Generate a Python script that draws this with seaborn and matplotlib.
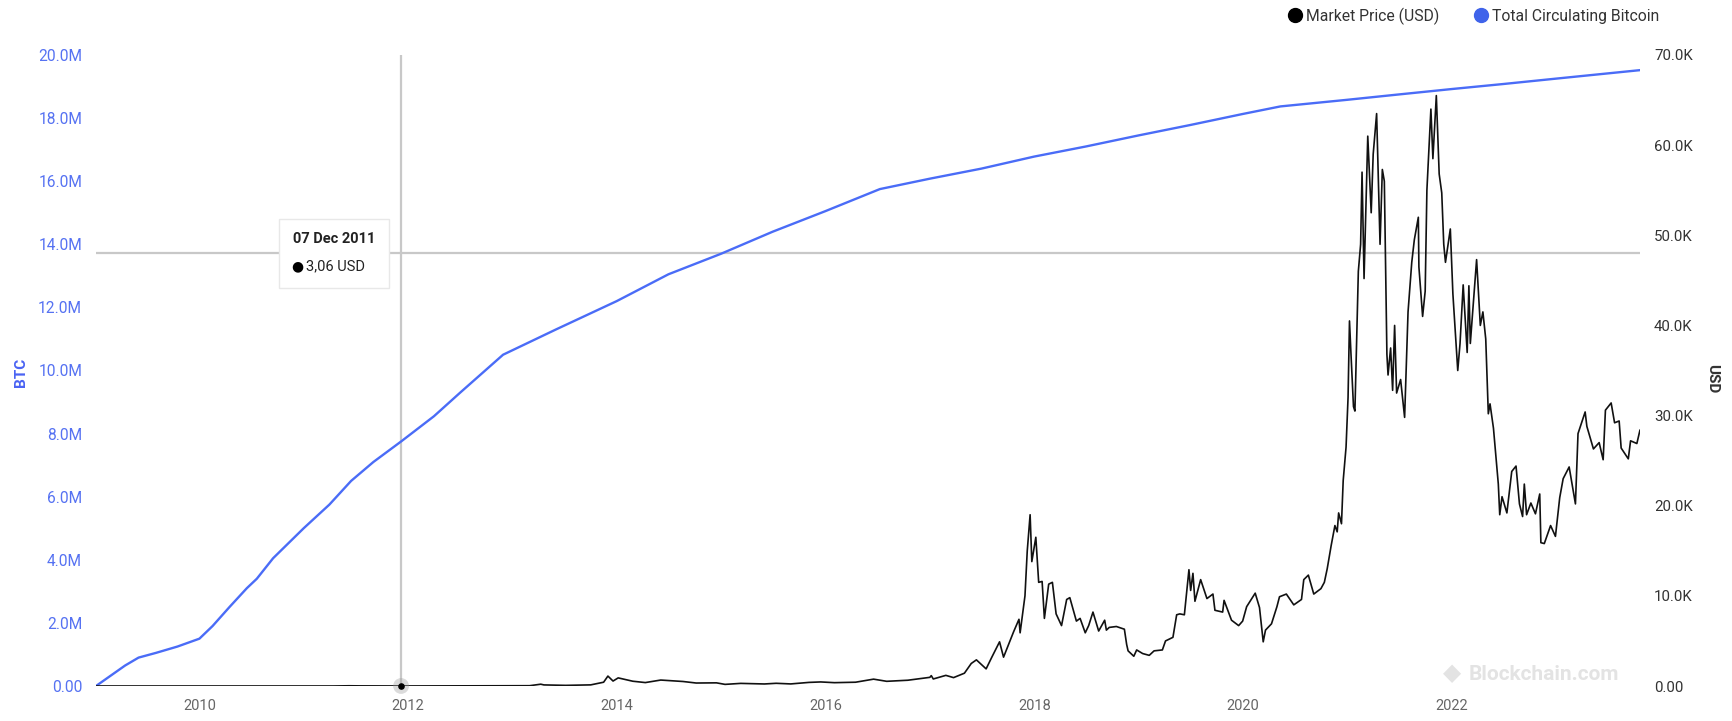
import matplotlib
matplotlib.use('Agg')
import matplotlib.pyplot as plt
import matplotlib.dates as mdates
from matplotlib.lines import Line2D
from matplotlib.patches import Rectangle
from matplotlib.ticker import FuncFormatter, MultipleLocator
import seaborn as sns
import pandas as pd

# ---------------- data ----------------
supply_dates = [
    "2009-01-03", "2009-04-15", "2009-06-01", "2009-08-01", "2009-10-15", "2009-12-31",
    "2010-02-15", "2010-04-15", "2010-06-15", "2010-07-20", "2010-09-15", "2010-12-31",
    "2011-03-31", "2011-06-15", "2011-09-01", "2011-12-07", "2012-03-31", "2012-07-01",
    "2012-11-28", "2013-06-01", "2013-12-31", "2014-06-30", "2014-12-31", "2015-06-30",
    "2015-12-31", "2016-07-09", "2016-12-31", "2017-06-30", "2017-12-31", "2018-06-30",
    "2018-12-31", "2019-06-30", "2019-12-31", "2020-05-11", "2020-12-31", "2021-06-30",
    "2021-12-31", "2022-06-30", "2022-12-31", "2023-10-22",
]
supply_btc = [
    0, 650000, 900000, 1050000, 1250000, 1500000,
    1900000, 2500000, 3100000, 3400000, 4050000, 5000000,
    5750000, 6500000, 7100000, 7750000, 8550000, 9300000,
    10500000, 11300000, 12200000, 13050000, 13700000, 14400000,
    15050000, 15750000, 16080000, 16400000, 16780000, 17100000,
    17450000, 17780000, 18130000, 18370000, 18580000, 18750000,
    18920000, 19080000, 19250000, 19520000,
]

price_dates = [
    "2009-01-03", "2010-07-17", "2010-11-06", "2011-02-09", "2011-04-15", "2011-06-08",
    "2011-07-15", "2011-10-20", "2011-12-07", "2012-02-01", "2012-05-01", "2012-08-15",
    "2012-12-31", "2013-03-01", "2013-04-09", "2013-04-20", "2013-07-05", "2013-10-01",
    "2013-11-15", "2013-11-30", "2013-12-18", "2014-01-05", "2014-02-25", "2014-04-10",
    "2014-06-03", "2014-08-20", "2014-10-05", "2014-12-15", "2015-01-14", "2015-03-10",
    "2015-06-01", "2015-07-12", "2015-09-01", "2015-11-04", "2015-12-15", "2016-02-01",
    "2016-04-15", "2016-06-17", "2016-08-02", "2016-10-15", "2016-12-31", "2017-01-05",
    "2017-01-12", "2017-02-25", "2017-03-24", "2017-05-01", "2017-05-25", "2017-06-12",
    "2017-07-16", "2017-08-05", "2017-09-01", "2017-09-15", "2017-10-20", "2017-11-08",
    "2017-11-12", "2017-11-29", "2017-12-07", "2017-12-17", "2017-12-23", "2018-01-06",
    "2018-01-16", "2018-01-28", "2018-02-05", "2018-02-20", "2018-03-05", "2018-03-18",
    "2018-04-06", "2018-04-24", "2018-05-05", "2018-05-28", "2018-06-10", "2018-06-28",
    "2018-07-10", "2018-07-25", "2018-08-14", "2018-09-04", "2018-09-10", "2018-09-20",
    "2018-10-15", "2018-11-12", "2018-11-20", "2018-11-25", "2018-12-15", "2018-12-25",
    "2019-01-15", "2019-02-07", "2019-02-24", "2019-03-25", "2019-04-05", "2019-05-01",
    "2019-05-14", "2019-05-25", "2019-06-10", "2019-06-26", "2019-07-02", "2019-07-10",
    "2019-07-17", "2019-08-06", "2019-08-28", "2019-09-18", "2019-09-25", "2019-10-22",
    "2019-10-27", "2019-11-22", "2019-12-17", "2019-12-31", "2020-01-14", "2020-02-13",
    "2020-02-28", "2020-03-12", "2020-03-20", "2020-04-10", "2020-04-29", "2020-05-08",
    "2020-06-01", "2020-06-27", "2020-07-24", "2020-08-01", "2020-08-17", "2020-09-05",
    "2020-09-30", "2020-10-12", "2020-10-22", "2020-11-05", "2020-11-18", "2020-11-26",
    "2020-12-01", "2020-12-11", "2020-12-17", "2020-12-27", "2021-01-03", "2021-01-08",
    "2021-01-13", "2021-01-22", "2021-01-27", "2021-02-08", "2021-02-16", "2021-02-21",
    "2021-02-28", "2021-03-13", "2021-03-25", "2021-04-01", "2021-04-13", "2021-04-25",
    "2021-05-03", "2021-05-10", "2021-05-19", "2021-05-23", "2021-06-01", "2021-06-08",
    "2021-06-15", "2021-06-22", "2021-07-06", "2021-07-20", "2021-08-01", "2021-08-14",
    "2021-08-23", "2021-09-06", "2021-09-08", "2021-09-21", "2021-09-30", "2021-10-06",
    "2021-10-20", "2021-10-27", "2021-11-08", "2021-11-18", "2021-11-27", "2021-12-04",
    "2021-12-10", "2021-12-27", "2022-01-05", "2022-01-22", "2022-01-30", "2022-02-10",
    "2022-02-24", "2022-03-02", "2022-03-07", "2022-03-29", "2022-04-11", "2022-04-20",
    "2022-04-30", "2022-05-09", "2022-05-15", "2022-05-27", "2022-06-13", "2022-06-18",
    "2022-06-26", "2022-07-13", "2022-07-30", "2022-08-14", "2022-08-26", "2022-09-06",
    "2022-09-12", "2022-09-20", "2022-10-05", "2022-10-21", "2022-11-05", "2022-11-09",
    "2022-11-21", "2022-12-13", "2022-12-30", "2023-01-14", "2023-01-26", "2023-02-16",
    "2023-03-10", "2023-03-19", "2023-04-13", "2023-04-19", "2023-05-12", "2023-06-01",
    "2023-06-15", "2023-06-23", "2023-07-13", "2023-07-25", "2023-08-10", "2023-08-17",
    "2023-09-11", "2023-09-19", "2023-10-11", "2023-10-22",
]
price_usd = [
    0, 0.05, 0.3, 1.0, 1.0, 25,
    14, 2.5, 3.06, 6, 5, 11,
    13.5, 33, 200, 120, 70, 125,
    420, 1100, 550, 900, 530, 380,
    660, 500, 330, 350, 180, 290,
    225, 300, 230, 400, 450, 370,
    420, 760, 520, 640, 960, 1150,
    780, 1180, 930, 1420, 2500, 2900,
    1900, 3200, 4900, 3200, 6000, 7400,
    5900, 10000, 15000, 19000, 13800, 16500,
    11500, 11600, 7500, 11300, 11500, 8000,
    6700, 9600, 9800, 7200, 7500, 5900,
    6700, 8200, 6100, 7300, 6200, 6500,
    6600, 6300, 4600, 3900, 3300, 4000,
    3600, 3400, 3900, 4000, 5000, 5400,
    7900, 8000, 7900, 12900, 10600, 12500,
    9400, 11800, 9700, 10200, 8400, 8200,
    9500, 7300, 6700, 7200, 8800, 10300,
    8700, 4900, 6200, 6900, 8800, 9900,
    10200, 9000, 9600, 11800, 12300, 10200,
    10800, 11500, 13000, 15600, 17800, 17100,
    19200, 18000, 22800, 26500, 32000, 40500,
    37000, 31000, 30500, 46000, 49000, 57000,
    45200, 61000, 52500, 59000, 63500, 49000,
    57300, 56000, 36800, 34500, 37500, 32800,
    40000, 32500, 34000, 29800, 41500, 47000,
    49500, 52000, 46500, 41000, 43800, 55000,
    64000, 58500, 65500, 56800, 54700, 49000,
    47000, 50700, 43500, 35000, 38000, 44500,
    37000, 44400, 38000, 47300, 40000, 41500,
    38500, 30200, 31300, 28600, 22400, 19000,
    21000, 19200, 23800, 24400, 20200, 18800,
    22400, 19000, 20300, 19100, 21300, 15900,
    15800, 17800, 16600, 20900, 23000, 24300,
    20200, 28000, 30400, 28800, 26300, 27000,
    25100, 30600, 31400, 29200, 29400, 26400,
    25200, 27200, 26900, 28400,
]

series_names = ["Market Price (USD)", "Total Circulating Bitcoin"]
tooltip_date = "2011-12-07"
tooltip_title = "07 Dec 2011"
tooltip_value = 3.06
tooltip_text = "3,06 USD"
crosshair_btc = 13720000

supply = pd.DataFrame({"date": pd.to_datetime(supply_dates), "btc": supply_btc})
price = pd.DataFrame({"date": pd.to_datetime(price_dates), "usd": price_usd})

# ---------------- style ----------------
sns.set_theme(style="white")
plt.rcParams['font.family'] = ['Roboto', 'DejaVu Sans']

BLUE = "#4a6cf7"
BLUE_TXT = "#5672f2"
DARK = "#333333"
GREY = "#666666"

W, H = 1732, 721
fig = plt.figure(figsize=(W / 100, H / 100), dpi=100)
ax = fig.add_axes([96 / W, 1 - 686 / H, (1640 - 96) / W, (686 - 55) / H])
ax2 = ax.twinx()

sns.lineplot(data=supply, x="date", y="btc", ax=ax, color=BLUE, linewidth=1.7)
sns.lineplot(data=price, x="date", y="usd", ax=ax2, color="#111111", linewidth=1.2)

xmin, xmax = pd.Timestamp(supply_dates[0]), pd.Timestamp(supply_dates[-1])
ax.set_xlim(xmin, xmax)
ax.set_ylim(0, 20e6)
ax2.set_ylim(0, 70e3)

ax.yaxis.set_major_locator(MultipleLocator(2e6))
ax2.yaxis.set_major_locator(MultipleLocator(10e3))
ax.yaxis.set_major_formatter(FuncFormatter(lambda v, p: "0.00" if v == 0 else f"{v/1e6:.1f}M"))
ax2.yaxis.set_major_formatter(FuncFormatter(lambda v, p: "0.00" if v == 0 else f"{v/1e3:.1f}K"))
ax.xaxis.set_major_locator(mdates.YearLocator(base=2))
ax.xaxis.set_major_formatter(mdates.DateFormatter("%Y"))

for a in (ax, ax2):
    for s in a.spines.values():
        s.set_visible(False)
    a.set_xlabel("")
    a.set_ylabel("")
    a.grid(False)

ax.tick_params(axis="y", length=0, pad=10, labelsize=11.2, labelcolor=BLUE_TXT)
ax2.tick_params(axis="y", length=0, pad=10, labelsize=10.8, labelcolor=DARK)
ax.tick_params(axis="x", length=0, pad=9, labelsize=10.5, labelcolor=GREY)

# crosshair
ax.axvline(pd.Timestamp(tooltip_date), color="#c8c8c8", lw=1.6, zorder=1)
ax.axhline(crosshair_btc, color="#c8c8c8", lw=1.6, zorder=1)
ax2.scatter([pd.Timestamp(tooltip_date)], [tooltip_value], s=130, color="#999999",
            alpha=0.35, zorder=5, clip_on=False, edgecolor="none")
ax2.scatter([pd.Timestamp(tooltip_date)], [tooltip_value], s=14, color="black",
            zorder=6, clip_on=False)

# tooltip box
rect = Rectangle((279 / W, 1 - 288 / H), 110 / W, 69 / H, transform=fig.transFigure,
                 facecolor="white", edgecolor="#e8e8e8", lw=1.0, zorder=20)
fig.add_artist(rect)
fig.text(334 / W, 1 - 239 / H, tooltip_title, ha="center", va="center",
         fontsize=10.5, fontweight="bold", color="#222222", zorder=21)
fig.text(291 / W, 1 - 266 / H, "\u25CF", ha="left", va="center", fontsize=10,
         color="black", family=["DejaVu Sans"], zorder=21)
fig.text(306 / W, 1 - 266 / H, tooltip_text, ha="left", va="center",
         fontsize=10.5, color="#222222", zorder=21)

# axis titles
fig.text(21 / W, 1 - 372 / H, "BTC", rotation=90, ha="center", va="center",
         fontsize=11, fontweight="bold", color="#4a63f3")
fig.text(1712 / W, 1 - 379 / H, "USD", rotation=270, ha="center", va="center",
         fontsize=11, fontweight="bold", color=DARK)

# legend
handles = [
    Line2D([], [], marker="o", linestyle="", markerfacecolor="black",
           markeredgecolor="black", markersize=10),
    Line2D([], [], marker="o", linestyle="", markerfacecolor="#3f63ea",
           markeredgecolor="#3f63ea", markersize=10),
]
leg = fig.legend(handles, series_names, ncol=2, loc="center right",
                 bbox_to_anchor=(1666 / W, 1 - 16 / H), frameon=False,
                 fontsize=11.3, handlelength=0.8, handletextpad=0.3,
                 columnspacing=2.3, borderaxespad=0)
for t in leg.get_texts():
    t.set_color(DARK)

# watermark
fig.text(1452 / W, 1 - 673 / H, "\u25C6", ha="center", va="center", fontsize=17,
         color="#e3e3e3", family=["DejaVu Sans"])
fig.text(1469 / W, 1 - 674 / H, "Blockchain.com", ha="left", va="center",
         fontsize=15, fontweight="bold", color="#e3e3e3")

fig.savefig("out.png", dpi=100, facecolor="white")
